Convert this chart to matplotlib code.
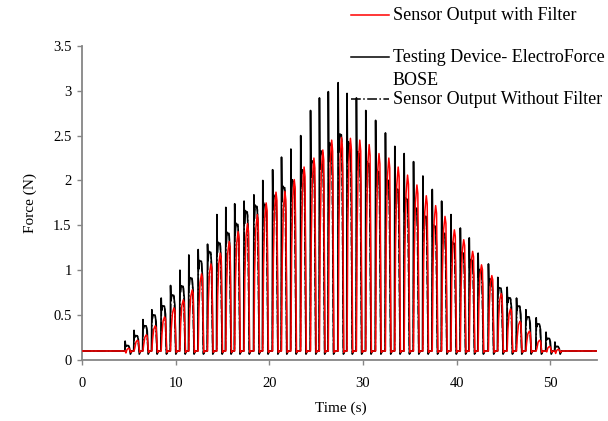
import numpy as np
import matplotlib
matplotlib.use("Agg")
import matplotlib.pyplot as plt
from matplotlib.lines import Line2D
from matplotlib.ticker import FuncFormatter

plt.rcParams['font.family'] = ['Liberation Serif', 'DejaVu Serif']

# start time of each loading pulse (s)
pulse_t = [4.6, 5.55, 6.5, 7.45, 8.45, 9.45, 10.45, 11.4, 12.4, 13.4,
           14.4, 15.35, 16.3, 17.3, 18.35, 19.3, 20.35, 21.3, 22.3, 23.35,
           24.4, 25.35, 26.3, 27.35, 28.3, 29.3, 30.3, 31.35, 32.4, 33.4,
           34.4, 35.4, 36.4, 37.4, 38.4, 39.4, 40.4, 41.35, 42.3, 43.4,
           44.4, 45.4, 46.4, 47.4, 48.5, 49.55, 50.5]
# testing device overshoot peak (N)
device_spike = [0.21, 0.33, 0.45, 0.56, 0.69, 0.83, 1.0, 1.17, 1.23, 1.29,
                1.62, 1.70, 1.74, 1.77, 1.84, 2.0, 2.12, 2.26, 2.35, 2.5,
                2.78, 2.92, 2.99, 3.09, 2.97, 2.92, 2.78, 2.67, 2.53, 2.38,
                2.3, 2.21, 2.05, 1.9, 1.77, 1.62, 1.47, 1.36, 1.19, 1.07,
                0.92, 0.81, 0.69, 0.56, 0.47, 0.31, 0.2]
# plateau level after the overshoot (N)
plateau = [0.16, 0.27, 0.38, 0.5, 0.6, 0.72, 0.82, 0.91, 1.1, 1.2,
           1.3, 1.41, 1.51, 1.65, 1.71, 1.73, 1.82, 1.92, 1.99, 2.1,
           2.21, 2.31, 2.4, 2.51, 2.41, 2.3, 2.19, 2.1, 2.0, 1.9,
           1.79, 1.69, 1.6, 1.49, 1.41, 1.3, 1.19, 1.11, 1.0, 0.9,
           0.8, 0.69, 0.6, 0.48, 0.4, 0.24, 0.15]
# filtered sensor peak (N)
filtered_peak = [0.13, 0.22, 0.28, 0.38, 0.48, 0.58, 0.67, 0.78, 0.96, 1.07,
                 1.19, 1.32, 1.43, 1.52, 1.62, 1.75, 1.87, 1.88, 2.01, 2.15,
                 2.25, 2.34, 2.45, 2.48, 2.47, 2.45, 2.4, 2.3, 2.25, 2.15,
                 2.06, 1.95, 1.83, 1.72, 1.6, 1.45, 1.34, 1.21, 1.06, 0.94,
                 0.74, 0.57, 0.43, 0.32, 0.22, 0.15, 0.12]
baseline = 0.1
t_end = 55.3


def build(shape_dt, shape_fn, levels_a, levels_b, base=baseline):
    x = [0.0]
    y = [base]
    for t, a, b in zip(pulse_t, levels_a, levels_b):
        for dt, f in zip(shape_dt, shape_fn(a, b)):
            x.append(t + dt)
            y.append(f)
    x.append(t_end)
    y.append(base)
    return np.array(x), np.array(y)


dev_x, dev_y = build([-0.04, 0.0, 0.05, 0.12, 0.34, 0.46, 0.56, 0.72],
                     lambda s, p: [baseline, s, p * 0.92, p, p, p * 0.85, 0.065, baseline],
                     device_spike, plateau)
raw_x, raw_y = build([-0.02, 0.03, 0.15, 0.38, 0.55, 0.7],
                     lambda s, p: [baseline, p * 0.95, p * 1.01, p * 0.98, 0.075, baseline],
                     device_spike, plateau)
filt_x, filt_y = build([0.0, 0.08, 0.2, 0.36, 0.46, 0.6, 0.75],
                       lambda r, _: [baseline, r * 0.6, r * 0.9, r, r * 0.95, 0.085, baseline],
                       filtered_peak, filtered_peak)

fig = plt.figure(figsize=(6.08, 4.21), dpi=100)
ax = fig.add_axes([0.135, 0.145, 0.847, 0.746])

ax.plot(filt_x, filt_y, color='#ff0000', lw=1.1, zorder=3)
ax.plot(dev_x, dev_y, color='black', lw=1.2, zorder=2)
ax.plot(raw_x, raw_y, color='black', lw=1.0, ls='-.', zorder=2)

ax.set_xlim(0, 55)
ax.set_ylim(0, 3.5)
ax.set_xticks([0, 10, 20, 30, 40, 50])
ax.set_yticks(np.arange(0, 3.51, 0.5))
ax.yaxis.set_major_formatter(FuncFormatter(lambda v, p: '%g' % v))

for s in ['top', 'right']:
    ax.spines[s].set_visible(False)
for s in ['left', 'bottom']:
    ax.spines[s].set_color('#868686')
    ax.spines[s].set_linewidth(1.3)
ax.tick_params(axis='both', colors='#868686', labelcolor='black',
               direction='out', length=3.5, width=1.0, labelsize=10.5)
ax.tick_params(axis='x', pad=9)
ax.tick_params(axis='y', pad=4)

ax.set_xlabel('Time (s)', fontsize=11)
ax.set_ylabel('Force (N)', fontsize=11)
ax.xaxis.set_label_coords(0.502, -0.155)
ax.xaxis.label.set_va('center')
ax.yaxis.set_label_coords(-0.101, 0.5)
ax.yaxis.label.set_va('center')

# legend drawn by hand (entries sit at uneven heights in the original)
W, H = 608.0, 421.0
entries = [('Sensor Output with Filter', '#ff0000', '-', 15),
           ('Testing Device- ElectroForce\nBOSE', 'black', '-', 57),
           ('Sensor Output Without Filter', 'black', '-.', 99)]
for label, col, ls, ypx in entries:
    fig.add_artist(Line2D([351 / W, 389 / W], [1 - ypx / H, 1 - ypx / H],
                          color=col, ls=ls, lw=1.1))
    fig.text(393 / W, 1 - (ypx - 8.5) / H, label, fontsize=13, va='top',
             ha='left', linespacing=1.5)

fig.savefig('out.png', dpi=100)
